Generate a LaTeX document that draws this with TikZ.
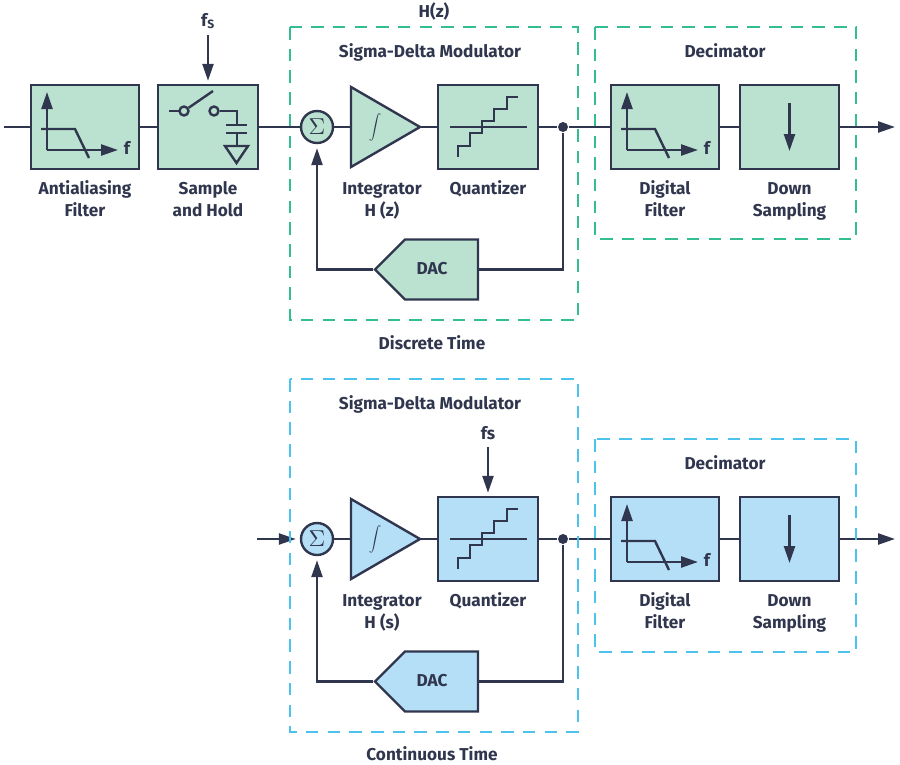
\documentclass[tikz,border=0pt]{standalone}
\usepackage{fontspec}
\usepackage{amsmath}
\setmainfont{Fira Sans}
\usetikzlibrary{arrows.meta,shapes.geometric,shapes.symbols}
\definecolor{ink}{HTML}{30364E}
\definecolor{greenfill}{HTML}{BBE2D0}
\definecolor{greendash}{HTML}{32BD92}
\definecolor{bluefill}{HTML}{B5DFF7}
\definecolor{bluedash}{HTML}{4BC3EC}
\tikzset{
	block/.style={rectangle, draw=ink, line width=2.4, minimum height=84, inner sep=0},
	sumnode/.style={circle, draw=ink, line width=2.4, minimum size=32, inner sep=0},
	amp/.style={isosceles triangle, isosceles triangle stretches, draw=ink, line width=2.4, minimum width=80, minimum height=69, inner sep=0, outer sep=0},
	dacnode/.style={signal, signal to=west, signal from=nowhere, signal pointer angle=90, draw=ink, line width=2.4, minimum width=103, minimum height=60, inner sep=0},
	caption/.style={align=center, inner sep=0, text=ink, font=\fontsize{17.2}{22}\selectfont\bfseries},
	frame/.style={dash pattern=on 12.5 off 9.2, line width=2.2},
	tip/.style={-{Triangle[length=17,width=11]}},
	filtericon/.pic={
		\draw[tip] (-38,23) -- (-38,-35);
		\draw[tip] (-38,23) -- (33,23);
		\draw (-44,2) -- (-10,2) -- (4,31);
		\node[caption] (ftext) at (42,21) {f};
	},
	stairicon/.pic={
		\draw (-38,0) -- (39,0);
		\draw (-30,30) |- (-18,19) |- (-6,6) |- (6,-6) |- (19,-18) |- (30,-30);
	}
}
\newcommand{\sumsym}{\scalebox{2.3}{$\Sigma$}}
\newcommand{\intsym}{\scalebox{1.25}{$\displaystyle\int$}}
\begin{document}
\begin{tikzpicture}[x=1pt, y=-1pt, line width=2.4, color=ink]
	\useasboundingbox (0,0) rectangle (900,764);
	\draw (85,127) node [block, fill=greenfill, minimum width=108] (aaf) {};
	\draw (208,127) node [block, fill=greenfill, minimum width=100] (sh) {};
	\draw (317,127) node [sumnode, fill=greenfill] (sum1) {\sumsym};
	\draw (420,127) node [amp, anchor=apex, fill=greenfill] (int1) {};
	\draw (488,127) node [block, fill=greenfill, minimum width=100] (qz1) {};
	\draw (563,127) node [circle, fill=ink, minimum size=10, inner sep=0] (jn1) {};
	\draw (441.5,269.5) node [dacnode, fill=greenfill] (dac1) {};
	\draw (665,127) node [block, fill=greenfill, minimum width=108] (df1) {};
	\draw (789.5,127) node [block, fill=greenfill, minimum width=99] (ds1) {};
	\coordinate (in1) at (4,127);
	\coordinate (out1) at (895,127);
	\coordinate (fs1) at (208,35);
	\path (in1) edge (aaf)
	(aaf) edge (sh)
	(sh) edge (sum1)
	(sum1) edge (int1.lower side)
	(int1.apex) edge (qz1)
	(qz1) edge (jn1)
	(jn1) edge (df1)
	(df1) edge (ds1);
	\draw[tip] (ds1) -- (out1);
	\draw[tip, shorten >=3] (fs1) -- (sh);
	\draw (jn1) |- (dac1.east);
	\draw[tip, shorten >=4] (dac1.west) -| (sum1);
	\draw (85,127) pic {filtericon};
	\draw (665,127) pic {filtericon};
	\draw (488,127) pic {stairicon};
	\draw[tip] (789.5,103) -- (789.5,151);
	\node (intsym1) at (375,127) {\intsym};
	\draw (169,111) -- (179.5,111);
	\draw (184,111) node [circle, draw=ink, minimum size=9, inner sep=0] (swa) {};
	\draw (214,111) node [circle, draw=ink, minimum size=9, inner sep=0] (swb) {};
	\draw (swa) -- (213,91);
	\draw (swb) -- (237,111) -- (237,125);
	\draw (226,125) -- (247,125);
	\draw (226,133) -- (247,133);
	\draw (237,133) -- (237,146);
	\draw (225,146) -- (248,146) -- (236.5,163) -- cycle;
	\draw[greendash, frame] (290,27) rectangle (578,320);
	\draw[greendash, frame] (595,27) rectangle (856,239);
	\node[caption] (tfs1) at (208,21) {f\textsubscript{S}};
	\node[caption] (thz) at (434,11) {H(z)};
	\node[caption] (tsd1) at (430,52) {Sigma-Delta Modulator};
	\node[caption] (tdc1) at (725,51) {Decimator};
	\node[caption] (taaf) at (85,199) {Antialiasing\\Filter};
	\node[caption] (tsh) at (208,199) {Sample\\and Hold};
	\node[caption] (tint1) at (382,201) {Integrator\\H (z)};
	\node[caption] (tqz1) at (488,189) {Quantizer};
	\node[caption] (tdf1) at (665,199) {Digital\\Filter};
	\node[caption] (tds1) at (789.5,201) {Down\\Sampling};
	\node[caption] (tdac1) at (432,269) {DAC};
	\node[caption] (tdt) at (432,343) {Discrete Time};
	\draw (317,539) node [sumnode, fill=bluefill] (sum2) {\sumsym};
	\draw (420,539) node [amp, anchor=apex, fill=bluefill] (int2) {};
	\draw (488,539) node [block, fill=bluefill, minimum width=100] (qz2) {};
	\draw (563,539) node [circle, fill=ink, minimum size=10, inner sep=0] (jn2) {};
	\draw (441.5,681.5) node [dacnode, fill=bluefill] (dac2) {};
	\draw (665,539) node [block, fill=bluefill, minimum width=108] (df2) {};
	\draw (789.5,539) node [block, fill=bluefill, minimum width=99] (ds2) {};
	\coordinate (in2) at (257,539);
	\coordinate (out2) at (895,539);
	\coordinate (fs2) at (488,447);
	\path (sum2) edge (int2.lower side)
	(int2.apex) edge (qz2)
	(qz2) edge (jn2)
	(jn2) edge (df2)
	(df2) edge (ds2);
	\draw[tip, shorten >=4] (in2) -- (sum2);
	\draw[tip] (ds2) -- (out2);
	\draw[tip, shorten >=3] (fs2) -- (qz2);
	\draw (jn2) |- (dac2.east);
	\draw[tip, shorten >=4] (dac2.west) -| (sum2);
	\draw (665,539) pic {filtericon};
	\draw (488,539) pic {stairicon};
	\draw[tip] (789.5,515) -- (789.5,563);
	\node (intsym2) at (375,539) {\intsym};
	\draw[bluedash, frame] (290,379) rectangle (578,732);
	\draw[bluedash, frame] (595,439) rectangle (856,652);
	\node[caption] (tfs2) at (488,433) {fs};
	\node[caption] (tsd2) at (430,404) {Sigma-Delta Modulator};
	\node[caption] (tdc2) at (725,463) {Decimator};
	\node[caption] (tint2) at (382,613) {Integrator\\H (s)};
	\node[caption] (tqz2) at (488,601) {Quantizer};
	\node[caption] (tdf2) at (665,611) {Digital\\Filter};
	\node[caption] (tds2) at (789.5,613) {Down\\Sampling};
	\node[caption] (tdac2) at (432,681) {DAC};
	\node[caption] (tct) at (432,754) {Continuous Time};
\end{tikzpicture}
\end{document}
